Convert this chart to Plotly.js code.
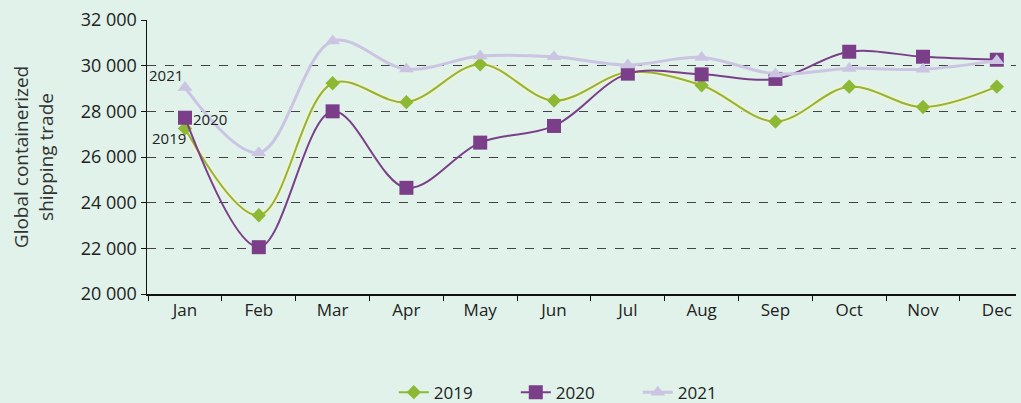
<!DOCTYPE html>
<html><head><meta charset="utf-8">
<script src="https://cdn.plot.ly/plotly-3.0.1.min.js"></script>
<style>html,body{margin:0;padding:0;background:#e0f2e9;}#chart{width:1021px;height:403px;}</style>
</head><body><div id="chart"></div>
<script>
const months = ["Jan","Feb","Mar","Apr","May","Jun","Jul","Aug","Sep","Oct","Nov","Dec"];
const s2019 = [27250, 23450, 29230, 28400, 30060, 28470, 29710, 29140, 27550, 29080, 28190, 29080];
const s2020 = [27720, 22050, 28000, 24650, 26630, 27360, 29650, 29620, 29420, 30610, 30390, 30260];
const s2021 = [29040, 26190, 31080, 29850, 30420, 30390, 30030, 30360, 29640, 29880, 29840, 30220];
const names = ["2019","2020","2021"];

const traces = [
  {x: months, y: s2019, name: "glow", mode: "lines", showlegend: false, hoverinfo: "skip",
   line: {shape: "spline", smoothing: 1, color: "rgba(245,240,215,0.9)", width: 6}},
  {x: months, y: s2019, name: names[0], mode: "lines+markers", line: {shape: "spline", smoothing: 1, color: "#8cb833", width: 2},
   marker: {symbol: "diamond", size: 11, color: "#8cb833"}},
  {x: months, y: s2020, name: names[1], mode: "lines+markers", line: {shape: "spline", smoothing: 1, color: "#7b3f8a", width: 2},
   marker: {symbol: "square", size: 14, color: "#7b3f8a"}},
  {x: months, y: s2021, name: names[2], mode: "lines+markers", line: {shape: "spline", smoothing: 1, color: "#cbc5e3", width: 3},
   marker: {symbol: "triangle-up", size: 13, color: "#cbc5e3"}}
];

const fam = "'Open Sans', 'Noto Sans', sans-serif";
const layout = {
  width: 1021, height: 403,
  paper_bgcolor: "#e0f2e9", plot_bgcolor: "#e0f2e9",
  margin: {l: 147, r: 5, t: 20, b: 109, autoexpand: false},
  separators: ". ",
  font: {family: fam, size: 16, color: "#222"},
  showlegend: true,
  legend: {orientation: "h", x: 0.284, xanchor: "left", y: -0.36, yanchor: "middle", font: {family: fam, size: 17, color: "#222"},
           entrywidth: 77, entrywidthmode: "pixels"},
  xaxis: {type: "category", range: [-0.515, 11.26], showgrid: false, showline: true, linecolor: "#111", linewidth: 1.5,
          ticks: "outside", tickson: "boundaries", ticklen: 5, tickcolor: "#111", tickfont: {family: fam, size: 17, color: "#222"}, zeroline: false},
  yaxis: {range: [20000, 32000], dtick: 2000, tickformat: ",d", showline: true, linecolor: "#111", linewidth: 1.5,
          ticks: "outside", ticklen: 5, tickcolor: "#111", tickfont: {family: fam, size: 18, color: "#222"},
          showgrid: true, gridcolor: "#444", griddash: "dash", gridwidth: 1, zeroline: false,
          title: {text: "Global containerized<br>shipping trade", font: {family: fam, size: 19, color: "#333"}, standoff: 22}},
  annotations: [
    {xref: "x", yref: "y", x: 0, y: s2021[0], text: names[2], showarrow: false, xanchor: "right", xshift: 0, yshift: 13, font: {family: fam, size: 15, color: "#222"}},
    {xref: "x", yref: "y", x: 0, y: s2020[0], text: names[1], showarrow: false, xanchor: "left", xshift: 6, yshift: -1, font: {family: fam, size: 15, color: "#222"}},
    {xref: "x", yref: "y", x: 0, y: s2019[0], text: names[0], showarrow: false, xanchor: "right", xshift: 3, yshift: -10, font: {family: fam, size: 15, color: "#222"}}
  ]
};
Plotly.newPlot("chart", traces, layout, {displayModeBar: false, staticPlot: true});
</script></body></html>
